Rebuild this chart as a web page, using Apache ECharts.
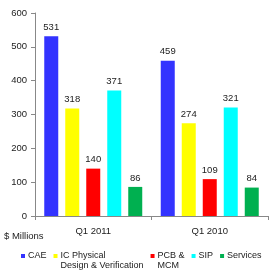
<!DOCTYPE html>
<html><head><meta charset="utf-8">
<script src="https://cdn.jsdelivr.net/npm/echarts@6/dist/echarts.min.js"></script>
<style>html,body{margin:0;padding:0;background:#fff}#c{width:280px;height:280px}</style>
</head><body><div id="c"></div>
<script>
var categories = ['Q1 2011', 'Q1 2010'];
var seriesNames = ['CAE', 'IC Physical\nDesign & Verification', 'PCB &\nMCM', 'SIP', 'Services'];
var cae = [531, 459];
var icPhysical = [318, 274];
var pcb = [140, 109];
var sip = [371, 321];
var services = [86, 84];
var yTicks = [0, 100, 200, 300, 400, 500, 600];
var colors = ['#3333FF', '#FFFF00', '#FF0000', '#00FFFF', '#00B050'];
var values = [cae, icPhysical, pcb, sip, services];

var font = 'Liberation Sans, Arial, sans-serif';
var chart = echarts.init(document.getElementById('c'));
var series = seriesNames.map(function (n, i) {
  return {
    name: n, type: 'bar', data: values[i], barWidth: 14, barGap: '50%',
    itemStyle: { color: colors[i] },
    label: { show: true, position: 'top', distance: 4, color: '#222', fontSize: 9.5, fontFamily: font }
  };
});
chart.setOption({
  animation: false,
  textStyle: { fontFamily: font },
  grid: { left: 35, right: 12, top: 13, bottom: 64 },
  xAxis: {
    type: 'category', data: categories,
    axisLine: { lineStyle: { color: '#888' } },
    axisTick: { show: true, length: 4, lineStyle: { color: '#888' } },
    axisLabel: { color: '#222', fontSize: 9.5, margin: 10, fontFamily: font }
  },
  yAxis: {
    type: 'value', min: yTicks[0], max: yTicks[yTicks.length - 1], interval: 100,
    splitLine: { show: false },
    axisLine: { show: true, lineStyle: { color: '#888' } },
    axisTick: { show: true, length: 4, lineStyle: { color: '#888' } },
    axisLabel: { color: '#222', fontSize: 9.5, margin: 8, fontFamily: font }
  },
  legend: {
    left: 21, top: 241, width: 265, padding: 0, itemWidth: 4, itemHeight: 4, itemGap: 7, icon: 'rect',
    textStyle: { color: '#222', fontSize: 9, lineHeight: 10, fontFamily: font, padding: [0, 0, 0, -2] },
    formatter: function (name) { return name.indexOf('\n') >= 0 ? '\n' + name : name; },
    data: seriesNames
  },
  graphic: [{ type: 'text', left: 4, top: 231, style: { text: '$ Millions', fontSize: 9.5, fill: '#222', fontFamily: font } }],
  series: series
});
</script></body></html>
